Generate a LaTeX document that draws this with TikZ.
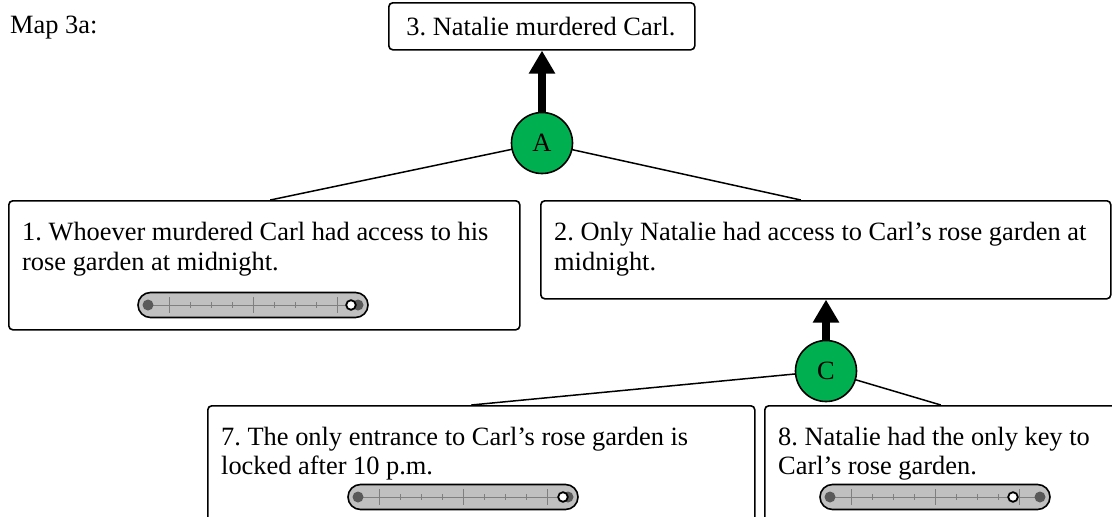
\documentclass[tikz,border=0pt]{standalone}
\usepackage{fontspec}
\setmainfont{Liberation Serif}
\usetikzlibrary{arrows.meta,calc}
\pgfdeclarelayer{bg}
\pgfsetlayers{bg,main}
\definecolor{cgreen}{HTML}{00B050}
\definecolor{sgray}{HTML}{C0C0C0}
\definecolor{tickc}{HTML}{7F7F7F}
\definecolor{dotc}{HTML}{595959}
\frenchspacing
\newcommand\myslider[3]{%
  \begin{scope}[shift={(#1,#2)}]
    \draw[line width=1.6pt, fill=sgray, rounded corners=12.5pt] (0,-12.5) rectangle (230,12.5);
    \draw[tickc, line width=0.8pt] (10,0) -- (220,0);
    \foreach \t in {31,115,199} \draw[tickc, line width=0.8pt] (\t,-8) -- (\t,8);
    \foreach \t in {52,73,94,136,157,178} \draw[tickc, line width=0.8pt] (\t,-3) -- (\t,3);
    \fill[dotc] (10,0) circle (5.5pt);
    \fill[dotc] (220,0) circle (5.5pt);
    \draw[line width=1.8pt, fill=white] (#3,0) circle (4.8pt);
  \end{scope}}
\begin{document}
\begin{tikzpicture}[x=1pt,y=-1pt,
  box/.style={draw, line width=1.6pt, rounded corners=4pt, anchor=north west, inner sep=0pt},
  txt/.style={anchor=base west, inner sep=0pt, font=\fontsize{26.4}{30}\selectfont},
  circ/.style={circle, draw, line width=1.6pt, fill=cgreen, minimum size=61pt, inner sep=0pt, font=\fontsize{26.4}{30}\selectfont},
  link/.style={line width=1.5pt},
  support/.style={line width=7.5pt, -{Triangle[width=25pt,length=23pt]}}]
\useasboundingbox (0,0) rectangle (1112,517);

\node[txt] (map) at (10,33) {Map 3a:};

% boxes
\node[box, minimum width=306pt, minimum height=47pt] (b3) at (388,2) {};
\node[box, minimum width=511pt, minimum height=129pt] (b1) at (8,200) {};
\node[box, minimum width=570pt, minimum height=98pt] (b2) at (540,200) {};
\node[box, minimum width=547pt, minimum height=140pt] (b7) at (207,405) {};
\node[box, minimum width=360pt, minimum height=140pt] (b8) at (764,405) {};

% texts
\node[txt, anchor=base] (t3) at (541,35) {3. Natalie murdered Carl.};
\node[txt] (t1a) at (22,240) {1. Whoever murdered Carl had access to his};
\node[txt] (t1b) at (22,270) {rose garden at midnight.};
\node[txt] (t2a) at (554,240) {2. Only Natalie had access to Carl’s rose garden at};
\node[txt] (t2b) at (554,270) {midnight.};
\node[txt] (t7a) at (221,445) {7. The only entrance to Carl’s rose garden is};
\node[txt] (t7b) at (221,474) {locked after 10 p.m.};
\node[txt] (t8a) at (778,445) {8. Natalie had the only key to};
\node[txt] (t8b) at (778,474) {Carl’s rose garden.};

% circles
\node[circ] (A) at (542,143) {A};
\node[circ] (C) at (826,371) {C};

% links
\begin{pgfonlayer}{bg}
\draw[link] (A.center) -- ($(b1.north)+(6,0)$);
\draw[link] (A.center) -- ($(b2.north)+(-25,0)$);
\draw[link] (C.center) -- ($(b7.north)+(-10,0)$);
\draw[link] (C.center) -- ($(b8.north)+(-4,0)$);
\end{pgfonlayer}

% support arrows
\draw[support] (A.north) -- (A.north |- b3.south);
\draw[support] (C.north) -- (C.north |- b2.south);

% sliders
\myslider{138}{305}{213}
\myslider{348}{497}{215}
\myslider{820}{497}{193}
\end{tikzpicture}
\end{document}
